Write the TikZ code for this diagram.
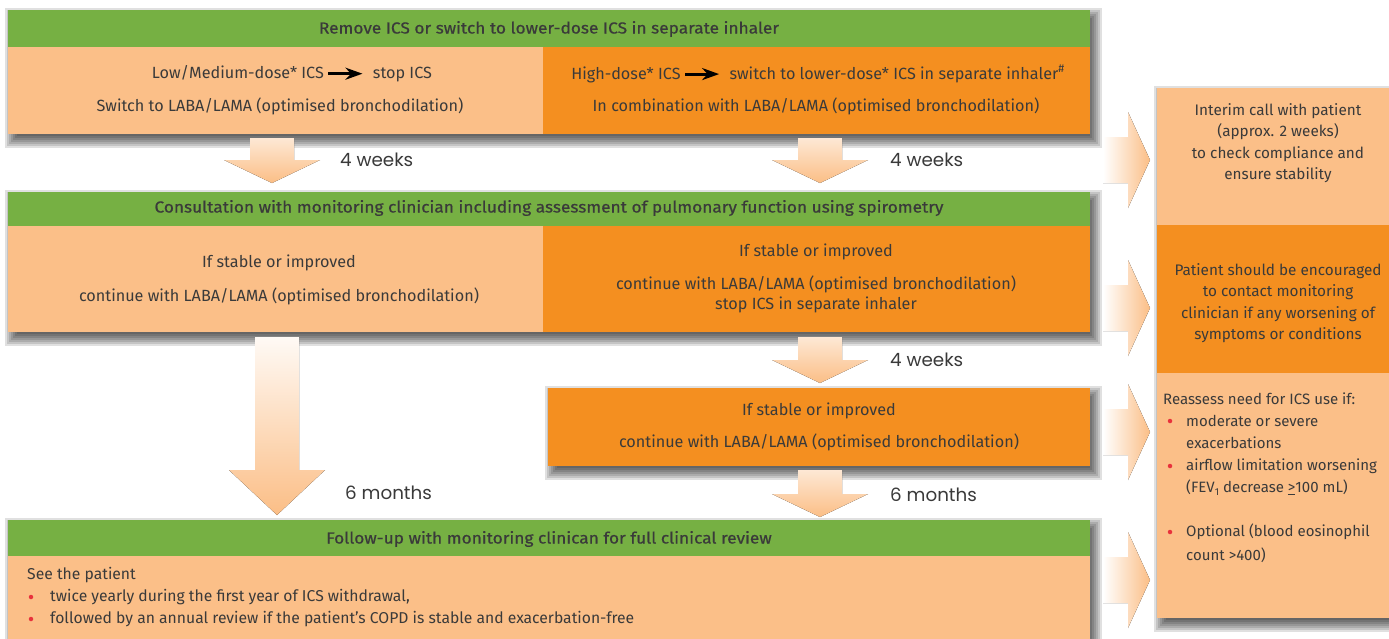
\documentclass[tikz,border=0pt]{standalone}
\usepackage{fontspec}
\setmainfont{Fira Sans}
\newfontfamily\hdrfont{Fira Sans}[FakeBold=0.6,FakeStretch=1.08]
\newfontfamily\weekfont{Poppins}
\usetikzlibrary{arrows.meta}
\definecolor{hdrgreen}{HTML}{76B043}
\definecolor{lightor}{HTML}{FBBF88}
\definecolor{darkor}{HTML}{F48F20}
\definecolor{txt}{HTML}{3A3A3A}
\definecolor{arrowor}{HTML}{FBBE86}
\definecolor{bulletred}{HTML}{E8323C}
\newcommand\blkarr{\hspace{3pt}\tikz[baseline=-0.6ex,x=1pt,y=1pt]\draw[black,line width=3pt,-{Stealth[length=17pt,width=12pt]}] (0,0)--(34,0);\hspace{9pt}}
\newcommand\softshadow[4]{%
  \foreach \k in {0,...,7}{%
    \fill[black,opacity=0.12] ({#1+5-8+2*\k},{#2+6-8+2*\k}) rectangle ({#3+4+8-2*\k},{#4+6+8-2*\k});
  }%
}
\newcommand\boxnode[6]{\node[#2,minimum width={(#5-#3)*1pt},minimum height={(#6-#4)*1pt}] (#1) at (#3,#4) {};}
\newcommand\dnarrow[5]{% cx ytop yhead ytip lighttop
  \fill[top color=arrowor!#5,bottom color=arrowor] ({#1-22},#2) -- ({#1+22},#2) -- ({#1+22},#3) -- ({#1+48},#3) -- (#1,#4) -- ({#1-48},#3) -- ({#1-22},#3) -- cycle;}
\newcommand\rtarrow[1]{% cy
  \fill[left color=white,right color=arrowor] (1103,{#1-23}) -- (1128,{#1-23}) -- (1128,{#1-48}) -- (1150,#1) -- (1128,{#1+48}) -- (1128,{#1+23}) -- (1103,{#1+23}) -- cycle;}
\tikzset{
  box/.style={rectangle,inner sep=0pt,outer sep=0pt,anchor=north west,draw=none},
  hdr/.style={box,fill=hdrgreen},
  lbox/.style={box,fill=lightor},
  dbox/.style={box,fill=darkor},
  tx/.style={inner sep=0pt,text=txt,font=\fontsize{16.2}{19}\selectfont},
  bx/.style={inner sep=0pt,text=txt,font=\fontsize{15.7}{19}\selectfont},
  sx/.style={inner sep=0pt,text=txt,font=\fontsize{15}{18}\selectfont},
  hx/.style={inner sep=0pt,text=txt,font=\hdrfont\fontsize{16}{19}\selectfont},
  rx/.style={inner sep=0pt,text=txt,align=center,font=\fontsize{15.3}{21.5}\selectfont},
  wk/.style={inner sep=0pt,text=txt,anchor=west,font=\weekfont\fontsize{18.3}{21}\selectfont},
  bul/.style={circle,fill=bulletred,inner sep=0pt,minimum size=4.5pt},
}
\begin{document}
\begin{tikzpicture}[x=1pt,y=-1pt]
\useasboundingbox (0,0) rectangle (1389,638);
\fill[white] (0,0) rectangle (1389,638);
% shadows
\softshadow{8}{10}{1090}{134}
\softshadow{8}{192}{1090}{332}
\softshadow{548}{388}{1090}{466}
\softshadow{8}{520}{1090}{660}
\softshadow{1157}{88}{1400}{618}
% row 1
\boxnode{h1}{hdr}{8}{10}{1090}{47}
\boxnode{a1}{lbox}{8}{47}{543}{134}
\boxnode{b1}{dbox}{543}{47}{1090}{134}
\node[hx] (h1t) at (549,29) {Remove ICS or switch to lower-dose ICS in separate inhaler};
\node[tx] (a1t1) at (292,74) {Low/Medium-dose* ICS\blkarr stop ICS};
\node[tx] (a1t2) at (280,106) {Switch to LABA/LAMA (optimised bronchodilation)};
\node[tx] (b1t1) at (818,74) {High-dose* ICS\blkarr switch to lower-dose* ICS in separate inhaler\textsuperscript{\#}};
\node[tx] (b1t2) at (816,106) {In combination with LABA/LAMA (optimised bronchodilation)};
% arrows row 1
\dnarrow{272}{138}{160}{183}{35}
\dnarrow{820}{138}{160}{183}{35}
\node[wk] (w1) at (340,160) {4 weeks};
\node[wk] (w2) at (890,160) {4 weeks};
% row 2
\boxnode{h2}{hdr}{8}{192}{1090}{226}
\boxnode{a2}{lbox}{8}{226}{543}{332}
\boxnode{b2}{dbox}{543}{226}{1090}{332}
\node[hx] (h2t) at (549,208) {Consultation with monitoring clinician including assessment of pulmonary function using spirometry};
\node[tx] (a2t1) at (279,263) {If stable or improved};
\node[tx] (a2t2) at (279,296) {continue with LABA/LAMA (optimised bronchodilation)};
\node[tx] (b2t1) at (816,252) {If stable or improved};
\node[tx] (b2t2) at (816,284) {continue with LABA/LAMA (optimised bronchodilation)};
\node[tx] (b2t3) at (816,305) {stop ICS in separate inhaler};
% long arrow and 4 weeks arrow
\dnarrow{277}{337}{470}{515}{8}
\dnarrow{820}{337}{360}{383}{35}
\node[wk] (w3) at (890,360) {4 weeks};
% box 3
\boxnode{c3}{dbox}{548}{388}{1090}{466}
\node[tx] (c3t1) at (819,411) {If stable or improved};
\node[tx] (c3t2) at (819,442) {continue with LABA/LAMA (optimised bronchodilation)};
\dnarrow{820}{470}{494}{517}{35}
\node[wk] (m1) at (345,493) {6 months};
\node[wk] (m2) at (890,495) {6 months};
% row 3
\boxnode{h3}{hdr}{8}{520}{1090}{556}
\boxnode{d3}{lbox}{8}{556}{1090}{660}
\node[hx] (h3t) at (549,539) {Follow-up with monitoring clinican for full clinical review};
\node[bx,anchor=west] (d3t1) at (27,575) {See the patient};
\node[bul] (d3b1) at (31,597) {};
\node[bx,anchor=west] (d3t2) at (50,597) {twice yearly during the first year of ICS withdrawal,};
\node[bul] (d3b2) at (31,619) {};
\node[bx,anchor=west] (d3t3) at (50,619) {followed by an annual review if the patient's COPD is stable and exacerbation-free};
% right column
\boxnode{r1}{lbox}{1157}{88}{1400}{225}
\boxnode{r2}{dbox}{1157}{225}{1400}{373}
\boxnode{r3}{lbox}{1157}{373}{1400}{618}
\node[rx] (r1t) at (1278,143) {Interim call with patient\\(approx. 2 weeks)\\to check compliance and\\ensure stability};
\node[rx] (r2t) at (1278,303) {Patient should be encouraged\\to contact monitoring\\clinician if any worsening of\\symptoms or conditions};
\node[sx,anchor=west] (r3t0) at (1163,399) {Reassess need for ICS use if:};
\node[bul] (r3b1) at (1170,421) {};
\node[sx,anchor=west] (r3t1) at (1186,421) {moderate or severe};
\node[sx,anchor=west] (r3t2) at (1186,443) {exacerbations};
\node[bul] (r3b2) at (1170,466) {};
\node[sx,anchor=west] (r3t3) at (1186,466) {airflow limitation worsening};
\node[sx,anchor=west] (r3t4) at (1186,488) {(FEV\raisebox{-0.35ex}{\fontsize{10}{10}\selectfont 1} decrease \underline{>}100 mL)};
\node[bul] (r3b3) at (1170,532) {};
\node[sx,anchor=west] (r3t5) at (1186,532) {Optional (blood eosinophil};
\node[sx,anchor=west] (r3t6) at (1186,555) {count >400)};
% right arrows
\rtarrow{160}
\rtarrow{308}
\rtarrow{432}
\rtarrow{580}
\end{tikzpicture}
\end{document}
